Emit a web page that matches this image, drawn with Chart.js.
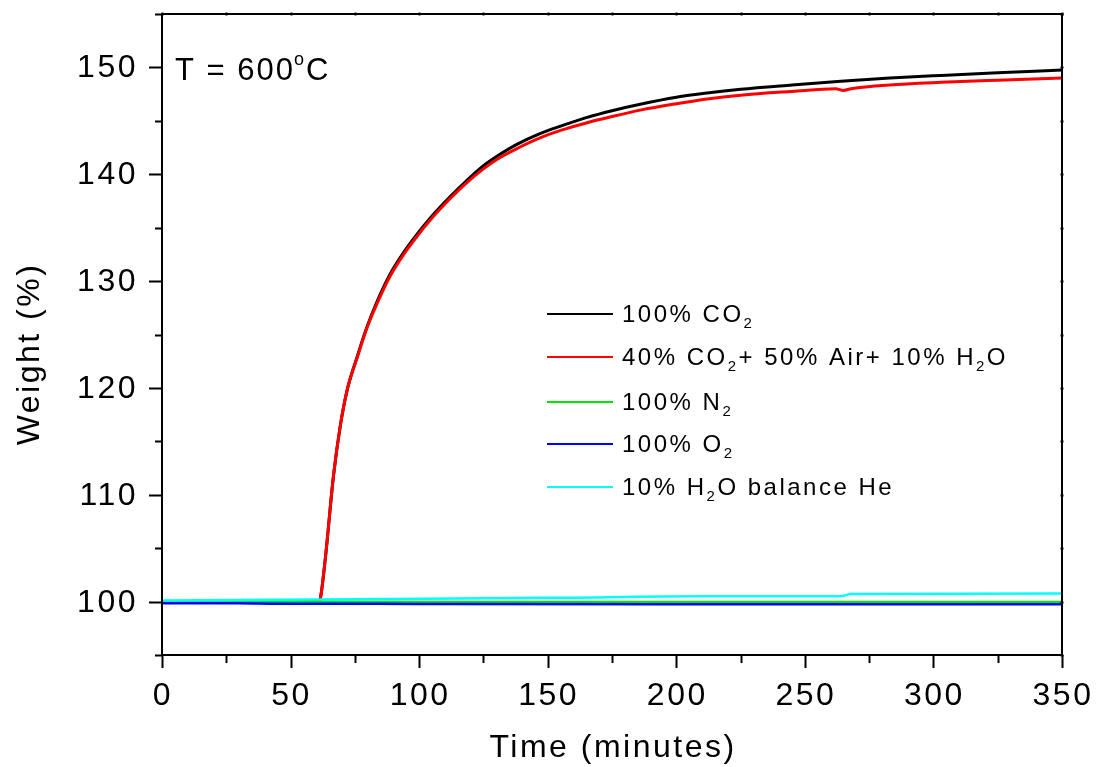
<!DOCTYPE html>
<html>
<head>
<meta charset="utf-8">
<title>Weight vs time at 600 C</title>
<script src="https://cdn.jsdelivr.net/npm/chart.js@4.4.1/dist/chart.umd.min.js"></script>
<style>
    html, body { margin: 0; padding: 0; background: #fff; }
    #wrap { width: 1098px; height: 767px; }
</style>
</head>
<body>
<div id="wrap"><canvas id="tgaChart" width="1098" height="767"></canvas></div>
<script>
// values
const seriesLabels = ["100% CO₂", "40% CO₂+ 50% Air+ 10% H₂O", "100% N₂", "100% O₂", "10% H₂O balance He"];
const seriesColors = ["#000000", "#ff0000", "#00e600", "#0000ff", "#00ffff"];

const co2Time = [0, 30, 61, 61.6, 63.5, 66.7, 69.3, 72, 76, 79.7, 84, 88.8, 94, 99.2, 105, 112, 118, 125, 131, 138, 147, 155, 165, 175, 186, 200, 212, 225, 245, 264, 283, 303, 325, 350];
const co2Weight = [100.0, 100.0, 100.0, 100.3, 104.0, 111.8, 116.4, 119.8, 123.0, 125.7, 128.3, 130.7, 132.7, 134.4, 136.1, 137.9, 139.3, 140.8, 141.8, 142.8, 143.8, 144.5, 145.3, 145.95, 146.55, 147.2, 147.6, 147.95, 148.35, 148.7, 149.0, 149.25, 149.5, 149.75];

const mixTime = [0, 30, 61, 61.6, 63.5, 66.7, 69.3, 72, 76, 79.7, 84, 88.8, 94, 99.2, 105, 112, 118, 125, 131, 138, 147, 155, 165, 175, 186, 200, 212, 225, 245, 262, 265, 268, 283, 303, 325, 350];
const mixWeight = [100.0, 100.0, 100.0, 100.3, 104.0, 111.8, 116.4, 119.8, 122.9, 125.6, 128.1, 130.5, 132.5, 134.2, 135.9, 137.7, 139.1, 140.5, 141.5, 142.4, 143.4, 144.1, 144.8, 145.4, 146.0, 146.6, 147.05, 147.4, 147.75, 148.0, 147.85, 148.0, 148.35, 148.6, 148.8, 149.0];

const n2Time = [0, 100, 200, 350];
const n2Weight = [100.0, 99.97, 99.95, 99.95];

const o2Time = [0, 30, 45, 60, 100, 200, 350];
const o2Weight = [99.85, 99.85, 99.8, 99.8, 99.78, 99.75, 99.75];

const h2oTime = [0, 60, 150, 210, 264, 268, 350];
const h2oWeight = [100.1, 100.2, 100.35, 100.5, 100.5, 100.7, 100.75];

const xTickLabels = ["0", "50", "100", "150", "200", "250", "300", "350"];
const yTickLabels = ["100", "110", "120", "130", "140", "150"];
const xMinorStep = 25;
const yMinorStep = 5;
const xRange = [0, 350];
const yRange = [95, 155];

const xTitle = "Time (minutes)";
const yTitle = "Weight (%)";
const noteText = ["T = 600", "o", "C"];

const FONT = "'Liberation Sans', Arial, sans-serif";

function toPoints(xs, ys) {
    return xs.map((x, i) => ({ x: x, y: ys[i] }));
}

const seriesData = [
    toPoints(co2Time, co2Weight),
    toPoints(mixTime, mixWeight),
    toPoints(n2Time, n2Weight),
    toPoints(o2Time, o2Weight),
    toPoints(h2oTime, h2oWeight)
];

// draws text where "₂" becomes a lowered small 2
function drawSubText(ctx, text, x, y, size, subSize) {
    const parts = text.split("₂");
    let cx = x;
    parts.forEach((part, i) => {
        ctx.font = size + "px " + FONT;
        ctx.fillText(part, cx, y);
        cx += ctx.measureText(part).width;
        if (i < parts.length - 1) {
            ctx.font = subSize + "px " + FONT;
            ctx.fillText("2", cx, y + 6);
            cx += ctx.measureText("2").width;
        }
    });
}

const framePlugin = {
    id: "frame",
    afterDraw(chart) {
        const ctx = chart.ctx;
        const area = chart.chartArea;
        const xs = chart.scales.x;
        const ys = chart.scales.y;

        ctx.save();
        ctx.strokeStyle = "#000";
        ctx.fillStyle = "#000";
        ctx.lineWidth = 2;
        ctx.strokeRect(area.left, area.top, area.right - area.left, area.bottom - area.top);

        // x ticks
        for (let v = xRange[0]; v <= xRange[1]; v += xMinorStep) {
            const px = Math.round(xs.getPixelForValue(v)) + 0.5;
            const major = xTickLabels.includes(String(v));
            ctx.beginPath();
            ctx.moveTo(px, area.bottom);
            ctx.lineTo(px, area.bottom + (major ? 13 : 8));
            ctx.moveTo(px, area.top - 1.5);
            ctx.lineTo(px, area.top + 1.5);
            ctx.stroke();
        }
        // y ticks
        for (let v = yRange[0]; v <= yRange[1]; v += yMinorStep) {
            const py = Math.round(ys.getPixelForValue(v)) + 0.5;
            const major = yTickLabels.includes(String(v));
            ctx.beginPath();
            ctx.moveTo(area.left, py);
            ctx.lineTo(area.left - (major ? 13 : 7), py);
            ctx.moveTo(area.right - 1.5, py);
            ctx.lineTo(area.right + 1.5, py);
            ctx.stroke();
        }

        ctx.letterSpacing = "2.5px";
        ctx.font = "32px " + FONT;
        ctx.textBaseline = "alphabetic";

        ctx.textAlign = "center";
        xTickLabels.forEach(lbl => {
            ctx.fillText(lbl, xs.getPixelForValue(Number(lbl)) + 1, area.bottom + 50);
        });
        ctx.textAlign = "right";
        yTickLabels.forEach(lbl => {
            ctx.fillText(lbl, area.left - 24, ys.getPixelForValue(Number(lbl)) + 10);
        });

        // axis titles
        ctx.textAlign = "center";
        ctx.fillText(xTitle, (area.left + area.right) / 2 + 1, 757);
        ctx.save();
        ctx.translate(39, 354);
        ctx.rotate(-Math.PI / 2);
        ctx.fillText(yTitle, 0, 0);
        ctx.restore();

        // temperature note
        ctx.textAlign = "left";
        ctx.letterSpacing = "2px";
        ctx.font = "31px " + FONT;
        let nx = area.left + 13;
        ctx.fillText(noteText[0], nx, 80);
        nx += ctx.measureText(noteText[0]).width - 1;
        ctx.font = "18px " + FONT;
        ctx.fillText(noteText[1], nx, 65);
        nx += ctx.measureText(noteText[1]).width;
        ctx.font = "31px " + FONT;
        ctx.fillText(noteText[2], nx, 80);

        // legend
        const rowY = [314, 357, 402, 444, 487];
        ctx.letterSpacing = "2.5px";
        chart.data.datasets.forEach((ds, i) => {
            const y = rowY[i];
            ctx.strokeStyle = ds.borderColor;
            ctx.lineWidth = 2;
            ctx.beginPath();
            ctx.moveTo(547, y);
            ctx.lineTo(613, y);
            ctx.stroke();
            ctx.fillStyle = "#000";
            drawSubText(ctx, ds.label, 622, y + 8, 24, 15);
        });
        ctx.restore();
    }
};

const datasets = seriesData.map((pts, i) => ({
    label: seriesLabels[i],
    data: pts,
    borderColor: seriesColors[i],
    backgroundColor: seriesColors[i],
    borderWidth: i < 2 ? 3 : 2.5,
    pointRadius: 0,
    showLine: true,
    fill: false,
    cubicInterpolationMode: "monotone",
    order: seriesData.length - i
}));

new Chart(document.getElementById("tgaChart"), {
    type: "scatter",
    data: { datasets },
    options: {
        responsive: false,
        animation: false,
        devicePixelRatio: 1,
        layout: { padding: { left: 162, right: 36, top: 14, bottom: 112 } },
        plugins: {
            legend: { display: false },
            tooltip: { enabled: false }
        },
        scales: {
            x: { type: "linear", display: false, min: xRange[0], max: xRange[1] },
            y: { type: "linear", display: false, min: yRange[0], max: yRange[1] }
        }
    },
    plugins: [framePlugin]
});
</script>
</body>
</html>
